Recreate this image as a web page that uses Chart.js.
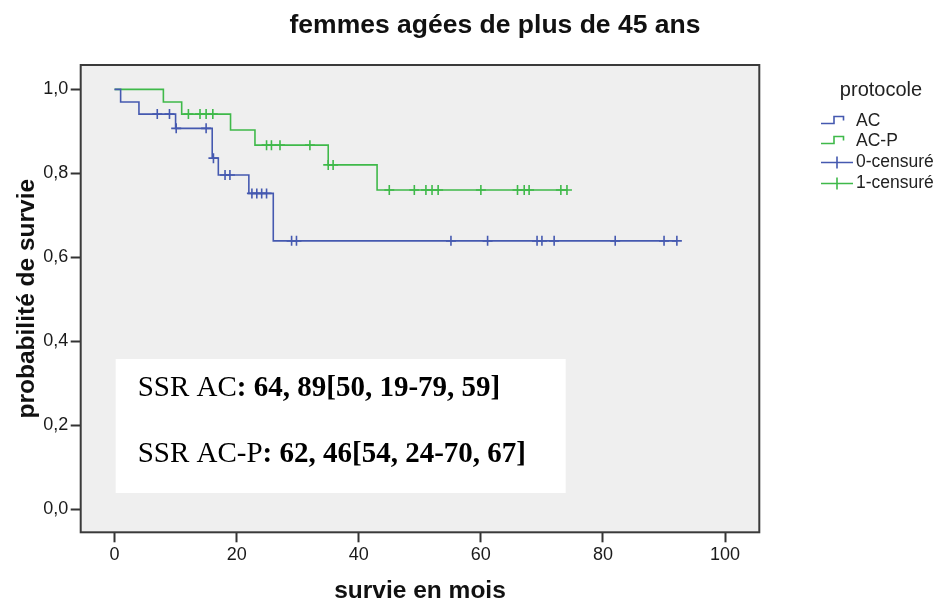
<!DOCTYPE html>
<html lang="fr">
<head>
<meta charset="utf-8">
<title>femmes agées de plus de 45 ans</title>
<script src="https://cdn.jsdelivr.net/npm/chart.js@4/dist/chart.umd.min.js"></script>
<style>
    html, body { margin: 0; padding: 0; background: #ffffff; }
    canvas { display: block; }
</style>
</head>
<body>
<canvas id="courbe-survie" width="947" height="603"></canvas>
<script>
const titre = "femmes agées de plus de 45 ans";
const titreX = "survie en mois";
const titreY = "probabilité de survie";
const titreLegende = "protocole";
const groupes = ["AC", "AC-P"];
const libellesCensure = ["0-censuré", "1-censuré"];
const couleurs = ["#4559b0", "#3fb94a"];

// Kaplan-Meier, groupe AC : instants des décès et survie juste après
const tempsAC = [0, 1, 4, 10, 16, 17, 22, 26];
const survieAC = [1, 0.970, 0.941, 0.907, 0.836, 0.796, 0.752, 0.639];
const censuresAC = [7, 9, 10.1, 15, 16.2, 18.1, 18.9, 22.5, 23.3, 24.1, 24.9, 29, 29.8, 55.1, 61.1, 69.2, 70, 72, 82, 90, 92.1];

// groupe AC-P
const tempsACP = [0, 8, 11, 19, 23, 35, 43];
const survieACP = [1, 0.970, 0.941, 0.903, 0.867, 0.820, 0.760];
const censuresACP = [12.1, 14, 15, 16.1, 24.9, 25.7, 27.1, 32, 35, 35.8, 45, 49.1, 51, 52, 53, 60, 66, 67.1, 67.9, 73.1, 74.1];

const ticksX = [0, 20, 40, 60, 80, 100];
const ticksY = [0, 0.2, 0.4, 0.6, 0.8, 1.0];

// médianes de survie sans récidive
const encadre = [
    ["SSR AC", ": 64, 89[50, 19-79, 59]"],
    ["SSR AC-P", ": 62, 46[54, 24-70, 67]"],
];

const police = "'Liberation Sans', Arial, sans-serif";
Chart.defaults.font.family = police;

// valeur de la courbe en escalier à l'instant t
function survieA(temps, survies, t) {
    let s = survies[0];
    temps.forEach((ti, i) => {
        if (ti <= t) s = survies[i];
    });
    return s;
}

function courbe(temps, survies, censures) {
    const points = temps.map((t, i) => ({ x: t, y: survies[i] }));
    points.push({ x: Math.max(...censures), y: survies[survies.length - 1] });
    return points;
}

function marques(temps, survies, censures) {
    return censures.map((t) => ({ x: t, y: survieA(temps, survies, t) }));
}

const fondEtEncadre = {
    id: "fondEtEncadre",
    beforeDatasetsDraw(chart) {
        const { ctx, chartArea: zone } = chart;
        ctx.save();
        ctx.fillStyle = "#efefef";
        ctx.fillRect(zone.left, zone.top, zone.right - zone.left, zone.bottom - zone.top);

        const gauche = zone.left + 35;
        const haut = zone.top + 294;
        ctx.fillStyle = "#ffffff";
        ctx.fillRect(gauche, haut, 450, 134);

        ctx.fillStyle = "#000000";
        ctx.textBaseline = "alphabetic";
        ctx.textAlign = "left";
        encadre.forEach(([nom, valeur], i) => {
            const y = haut + 37 + i * 66;
            ctx.font = "29px 'Liberation Serif', 'Times New Roman', serif";
            ctx.fillText(nom, gauche + 22, y);
            const largeur = ctx.measureText(nom).width;
            ctx.font = "bold 29px 'Liberation Serif', 'Times New Roman', serif";
            ctx.fillText(valeur, gauche + 22 + largeur, y);
        });
        ctx.restore();
    },
    afterDatasetsDraw(chart) {
        const { ctx, chartArea: zone } = chart;
        ctx.save();
        ctx.strokeStyle = "#3a3a3a";
        ctx.lineWidth = 2;
        ctx.strokeRect(zone.left, zone.top, zone.right - zone.left, zone.bottom - zone.top);
        ctx.restore();
    },
};

const titreEtLegende = {
    id: "titreEtLegende",
    afterDraw(chart) {
        const ctx = chart.ctx;
        ctx.save();
        ctx.fillStyle = "#111111";
        ctx.textAlign = "center";
        ctx.textBaseline = "alphabetic";
        ctx.font = `bold 26.5px ${police}`;
        ctx.fillText(titre, 495, 33);

        ctx.fillStyle = "#222222";
        ctx.textBaseline = "middle";
        ctx.font = `20px ${police}`;
        ctx.fillText(titreLegende, 881, 90);

        ctx.textAlign = "left";
        ctx.font = `17.5px ${police}`;
        ctx.lineWidth = 1.6;

        // symboles en escalier pour les courbes
        groupes.forEach((nom, i) => {
            const y = 121.5 + i * 20;
            ctx.strokeStyle = couleurs[i];
            ctx.beginPath();
            ctx.moveTo(821, y + 2);
            ctx.lineTo(834, y + 2);
            ctx.lineTo(834, y - 5);
            ctx.lineTo(843.5, y - 5);
            ctx.lineTo(843.5, y - 1);
            ctx.stroke();
            ctx.fillText(nom, 856, y);
        });

        // croix pour les observations censurées
        libellesCensure.forEach((nom, i) => {
            const y = 162.5 + i * 21;
            ctx.strokeStyle = couleurs[i];
            ctx.beginPath();
            ctx.moveTo(821, y);
            ctx.lineTo(853, y);
            ctx.moveTo(837, y - 6);
            ctx.lineTo(837, y + 6);
            ctx.stroke();
            ctx.fillText(nom, 856, y);
        });
        ctx.restore();
    },
};

const jeux = [
    {
        label: groupes[0],
        data: courbe(tempsAC, survieAC, censuresAC),
        borderColor: couleurs[0],
        borderWidth: 1.6,
        stepped: true,
        pointRadius: 0,
        fill: false,
    },
    {
        label: groupes[1],
        data: courbe(tempsACP, survieACP, censuresACP),
        borderColor: couleurs[1],
        borderWidth: 1.6,
        stepped: true,
        pointRadius: 0,
        fill: false,
    },
    {
        label: libellesCensure[0],
        data: marques(tempsAC, survieAC, censuresAC),
        showLine: false,
        pointStyle: "cross",
        pointRadius: 5,
        borderColor: couleurs[0],
        pointBorderWidth: 1.6,
    },
    {
        label: libellesCensure[1],
        data: marques(tempsACP, survieACP, censuresACP),
        showLine: false,
        pointStyle: "cross",
        pointRadius: 5,
        borderColor: couleurs[1],
        pointBorderWidth: 1.6,
    },
];

const graphique = new Chart(document.getElementById("courbe-survie"), {
    type: "line",
    data: { datasets: jeux },
    plugins: [fondEtEncadre, titreEtLegende],
    options: {
        responsive: false,
        devicePixelRatio: 1,
        animation: false,
        layout: { padding: { top: 65, right: 187.7, bottom: 0, left: 0 } },
        plugins: {
            legend: { display: false },
            tooltip: { enabled: false },
            title: { display: false },
        },
        scales: {
            x: {
                type: "linear",
                min: -5.54,
                max: 105.6,
                afterBuildTicks: (axe) => {
                    axe.ticks = ticksX.map((v) => ({ value: v }));
                },
                afterFit: (axe) => {
                    axe.height = 70.7;
                },
                border: { display: false },
                grid: { drawOnChartArea: false, tickLength: 10, tickWidth: 2, tickColor: "#333333" },
                ticks: { color: "#1a1a1a", font: { size: 18 }, padding: 2, autoSkip: false, maxRotation: 0 },
                title: {
                    display: true,
                    text: titreX,
                    color: "#111111",
                    font: { size: 24.5, weight: "bold", lineHeight: 1 },
                    padding: 0,
                },
            },
            y: {
                type: "linear",
                min: -0.0555,
                max: 1.058,
                afterBuildTicks: (axe) => {
                    axe.ticks = ticksY.map((v) => ({ value: v }));
                },
                afterFit: (axe) => {
                    axe.width = 80.7;
                },
                border: { display: false },
                grid: { drawOnChartArea: false, tickLength: 10, tickWidth: 2, tickColor: "#333333" },
                ticks: {
                    color: "#1a1a1a",
                    font: { size: 18 },
                    padding: 2.5,
                    autoSkip: false,
                    callback: (v) => v.toFixed(1).replace(".", ","),
                },
                title: {
                    display: true,
                    text: titreY,
                    color: "#111111",
                    font: { size: 24.5, weight: "bold" },
                    padding: { top: 13, bottom: 0 },
                },
            },
        },
    },
});
</script>
</body>
</html>
